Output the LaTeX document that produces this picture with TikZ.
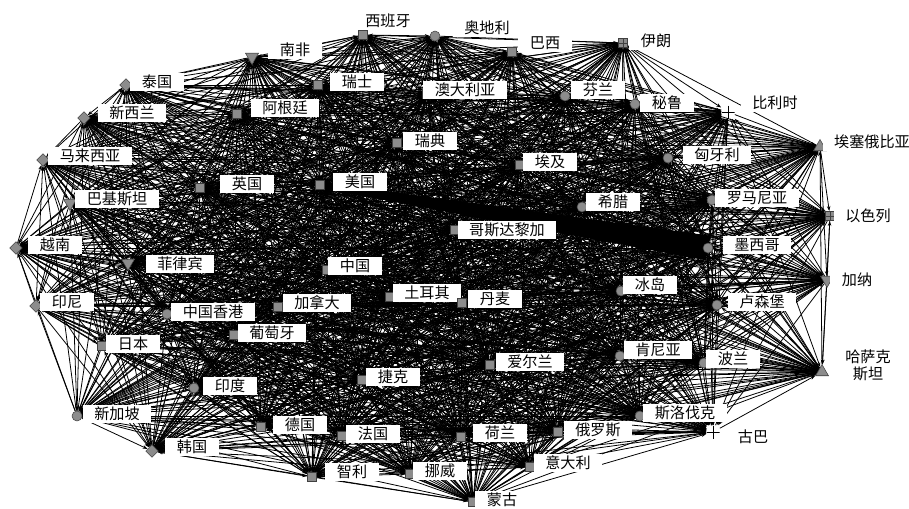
\documentclass[tikz,border=0pt]{standalone}
\usepackage{fontspec}
\newfontfamily\cjk{Noto Sans CJK SC}
\usetikzlibrary{shapes.geometric,arrows.meta,calc}
\pgfdeclarelayer{bg}
\pgfsetlayers{bg,main}
\begin{document}
\begin{tikzpicture}[x=0.02cm,y=-0.02cm,
  mk/.style={draw=black!75,line width=0.3pt,fill=black!45,inner sep=0pt},
  sqm/.style={mk,rectangle,minimum size=0.19cm},
  cim/.style={mk,circle,minimum size=0.2cm},
  dim/.style={mk,diamond,minimum size=0.25cm},
  tum/.style={mk,regular polygon,regular polygon sides=3,minimum size=0.3cm},
  tdm/.style={tum,shape border rotate=180},
  xsm/.style={sqm,path picture={\draw[line width=0.4pt]
     (path picture bounding box.north) -- (path picture bounding box.south)
     (path picture bounding box.west) -- (path picture bounding box.east);}},
  plm/.style={inner sep=0pt,minimum size=0.26cm,path picture={\draw[line width=0.5pt]
     (path picture bounding box.north) -- (path picture bounding box.south)
     (path picture bounding box.west) -- (path picture bounding box.east);}},
  lab/.style={fill=white,inner xsep=6.5pt,inner ysep=1.3pt,align=center,
     font=\cjk\fontsize{8.6}{9.8}\selectfont},
  edge/.style={line width=0.45pt,black,-{Stealth[length=2.8pt,width=2pt]}},
  thick edge/.style={fill=black}
]
\useasboundingbox (0,0) rectangle (909,508);
\foreach \k/\x/\y/\st/\t/\lx/\ly in {
 1/363/35/sqm/西班牙/388/21,
 2/435/36/cim/奥地利/487/28,
 3/252/57/tdm/南非/295/50,
 4/126/85/dim/泰国/157/82,
 5/318/85/sqm/瑞士/357/82,
 6/427/94/sqm/澳大利亚/465/90,
 7/84/118/dim/新西兰/132/113,
 8/237/114/sqm/阿根廷/285/108,
 9/397/143/sqm/瑞典/430/141,
 10/43/160/dim/马来西亚/90/156,
 11/200/188/sqm/英国/247/184,
 12/320/185/sqm/美国/360/182,
 13/70/203/tdm/巴基斯坦/117/199,
 14/16/248/dim/越南/55/245,
 15/128/263/tdm/菲律宾/180/264,
 16/512/52/sqm/巴西/545/43,
 17/623/43/xsm/伊朗/656/41,
 18/565/96/cim/芬兰/598/90,
 19/635/104/cim/秘鲁/667/103,
 20/728/112/plm/比利时/775/103,
 21/820/147/tum/埃塞俄比亚/872/142,
 22/520/165/sqm/埃及/550/162,
 23/668/158/cim/匈牙利/717/155,
 24/582/207/cim/希腊/613/202,
 25/712/200/cim/罗马尼亚/757/198,
 26/830/216/xsm/以色列/868/216,
 27/455/230/sqm/哥斯达黎加/507/230,
 28/708/248/cim/墨西哥/757/245,
 29/327/270/sqm/中国/355/266,
 30/36/306/dim/印尼/67/302,
 31/167/314/cim/中国香港/213/312,
 32/278/307/sqm/加拿大/317/303,
 33/390/297/sqm/土耳其/427/293,
 34/234/335/sqm/葡萄牙/272/333,
 35/102/346/sqm/日本/133/344,
 36/194/388/cim/印度/230/386,
 37/362/380/sqm/捷克/393/377,
 38/77/416/cim/新加坡/117/414,
 39/261/427/sqm/德国/300/425,
 40/342/436/sqm/法国/373/434,
 41/152/451/dim/韩国/192/447,
 42/312/477/sqm/智利/352/472,
 43/410/474/sqm/挪威/440/471,
 44/462/303/sqm/丹麦/495/299,
 45/621/291/cim/冰岛/650/285,
 46/827/280/tdm/加纳/857/280,
 47/717/305/cim/卢森堡/762/302,
 48/490/365/sqm/爱尔兰/530/362,
 49/620/356/cim/肯尼亚/658/350,
 50/704/363/cim/波兰/733/359,
 51/822/372/tum/{哈萨克\\斯坦}/868/365,
 52/640/416/cim/斯洛伐克/685/413,
 53/461/437/sqm/荷兰/500/433,
 54/558/432/sqm/俄罗斯/598/430,
 55/713/432/plm/古巴/753/437,
 56/530/467/sqm/意大利/568/463,
 57/473/502/sqm/蒙古/502/500}
{
  \node[\st] (n\k) at (\x,\y) {};
  \node[lab] (l\k) at (\lx,\ly) {\t};
}
\begin{pgfonlayer}{bg}
\foreach \i in {1,...,56}{
  \pgfmathtruncatemacro\jstart{\i+1}
  \foreach \j in {\jstart,...,57}{
    \pgfmathtruncatemacro\pty{mod(\i+\j,2)}
    \ifnum\pty=1 \draw[edge] (n\i) -- (n\j);
    \else \draw[edge] (n\j) -- (n\i); \fi
  }
}
\fill[thick edge] ($(n12)!0.06cm!90:(n28)$) -- ($(n28)!0.25cm!-90:(n12)$)
   -- ($(n28)!0.25cm!90:(n12)$) -- ($(n12)!0.06cm!-90:(n28)$) -- cycle;
\end{pgfonlayer}
\end{tikzpicture}
\end{document}
